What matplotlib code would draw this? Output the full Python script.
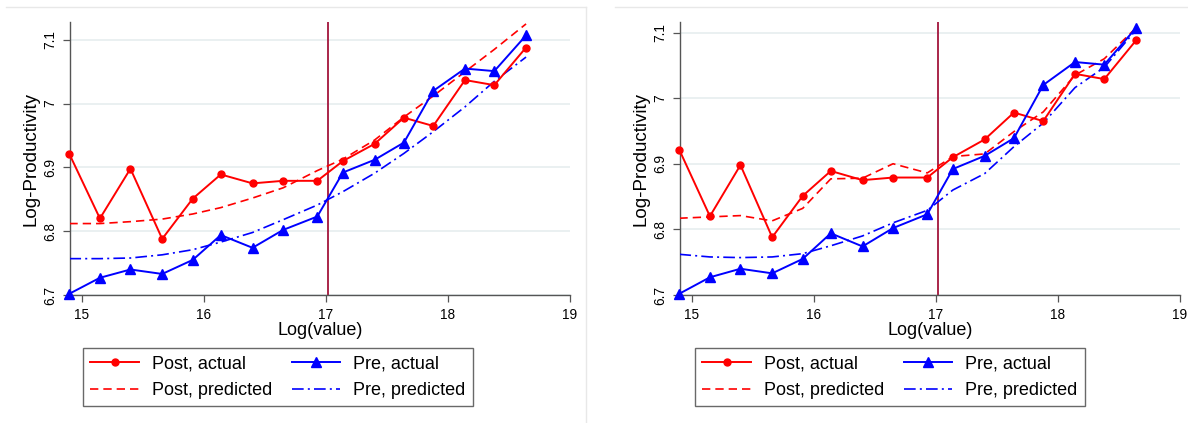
import matplotlib
matplotlib.use("Agg")
import matplotlib.pyplot as plt
from matplotlib.lines import Line2D

plt.rcParams['font.family'] = ['Liberation Sans', 'DejaVu Sans']

# Bin positions (Log(value))
log_value = [14.90, 15.15, 15.40, 15.66, 15.91, 16.14, 16.40, 16.65,
             16.93, 17.14, 17.40, 17.64, 17.88, 18.14, 18.38, 18.64]

# Actual series (shared by both panels)
post_actual = [6.921, 6.820, 6.898, 6.788, 6.851, 6.889, 6.875, 6.879,
               6.879, 6.910, 6.937, 6.978, 6.965, 7.037, 7.029, 7.088]
pre_actual = [6.702, 6.727, 6.740, 6.733, 6.755, 6.794, 6.774, 6.802,
              6.823, 6.892, 6.912, 6.939, 7.020, 7.055, 7.051, 7.107]

# Left panel predictions
post_pred_left = [6.812, 6.812, 6.815, 6.819, 6.827, 6.837, 6.852, 6.868,
                  6.895, 6.913, 6.943, 6.979, 7.012, 7.050, 7.085, 7.125]
pre_pred_left = [6.757, 6.757, 6.758, 6.763, 6.771, 6.783, 6.798, 6.818,
                 6.841, 6.862, 6.891, 6.922, 6.956, 6.995, 7.035, 7.073]

# Right panel predictions
post_pred_right = [6.817, 6.819, 6.821, 6.813, 6.832, 6.877, 6.878, 6.900,
                   6.886, 6.911, 6.915, 6.949, 6.979, 7.035, 7.060, 7.107]
pre_pred_right = [6.762, 6.758, 6.757, 6.758, 6.763, 6.775, 6.790, 6.810,
                  6.829, 6.860, 6.885, 6.926, 6.962, 7.016, 7.047, 7.104]

yticks = [6.7, 6.8, 6.9, 7.0, 7.1]
ytick_labels = ["6.7", "6.8", "6.9", "7", "7.1"]
xticks = [15, 16, 17, 18, 19]
xtick_labels = ["15", "16", "17", "18", "19"]
cutoff = 17.02

W, H = 1188, 423
fig = plt.figure(figsize=(W / 100, H / 100), dpi=100)

RED = '#ff0000'
BLUE = '#0000ff'
VLINE = '#a3153c'
GRID = '#e6eeef'
AXC = '#555555'
BORDER = '#e8e8e8'

# panel borders
fig.add_artist(Line2D([6 / W, 586 / W], [1 - 7 / H, 1 - 7 / H], color=BORDER, lw=1))
fig.add_artist(Line2D([586 / W, 586 / W], [0, 1 - 7 / H], color=BORDER, lw=1))
fig.add_artist(Line2D([615 / W, 1188 / W], [1 - 7 / H, 1 - 7 / H], color=BORDER, lw=1))


def panel(left_px, ytop, post_pred, pre_pred, leg_x):
    ax = fig.add_axes([left_px / W, 1 - 295 / H, 500 / W, 273 / H])
    ax.set_xlim(14.905, 19.0)
    ax.set_ylim(6.7, ytop)
    for y in yticks:
        ax.axhline(y, color=GRID, lw=1.2, zorder=0)
    ax.axvline(cutoff, color=VLINE, lw=1.3, zorder=1)
    l1, = ax.plot(log_value, post_actual, color=RED, lw=1.4, marker='o',
                  markersize=5, label='Post, actual', zorder=4, clip_on=False)
    l3, = ax.plot(log_value, pre_actual, color=BLUE, lw=1.4, marker='^',
                  markersize=6.5, label='Pre, actual', zorder=4, clip_on=False)
    l2, = ax.plot(log_value, post_pred, color=RED, lw=1.2, ls=(0, (5, 3)),
                  label='Post, predicted', zorder=3)
    l4, = ax.plot(log_value, pre_pred, color=BLUE, lw=1.2, ls=(0, (7, 2.5, 1.2, 2.5)),
                  label='Pre, predicted', zorder=3)
    for s in ['top', 'right']:
        ax.spines[s].set_visible(False)
    for s in ['left', 'bottom']:
        ax.spines[s].set_color(AXC)
        ax.spines[s].set_linewidth(1.0)
    ax.set_xticks(xticks)
    ax.set_xticklabels(xtick_labels, fontsize=9.8)
    ax.set_yticks(yticks)
    ax.set_yticklabels(ytick_labels, fontsize=9.8, rotation=90, va='center')
    ax.tick_params(axis='both', direction='out', length=5, width=0.9, color=AXC, pad=4)
    ax.set_xlabel('Log(value)', fontsize=13, labelpad=0)
    ax.set_ylabel('Log-Productivity', fontsize=13.5, labelpad=3)
    leg = ax.legend([l1, l2, l3, l4],
                    ['Post, actual', 'Post, predicted', 'Pre, actual', 'Pre, predicted'],
                    ncol=2, loc='upper left', bbox_to_anchor=(leg_x / W, 1 - 348 / H),
                    bbox_transform=fig.transFigure, fontsize=13, frameon=True,
                    fancybox=False, edgecolor='#444444', handlelength=2.7,
                    handletextpad=0.7, columnspacing=1.1, borderpad=0.4,
                    labelspacing=0.55, borderaxespad=0)
    leg.get_frame().set_linewidth(1.0)
    return ax


panel(70, 7.128, post_pred_left, pre_pred_left, 83)
panel(680, 7.116, post_pred_right, pre_pred_right, 695)

fig.savefig('out.png', dpi=100)
